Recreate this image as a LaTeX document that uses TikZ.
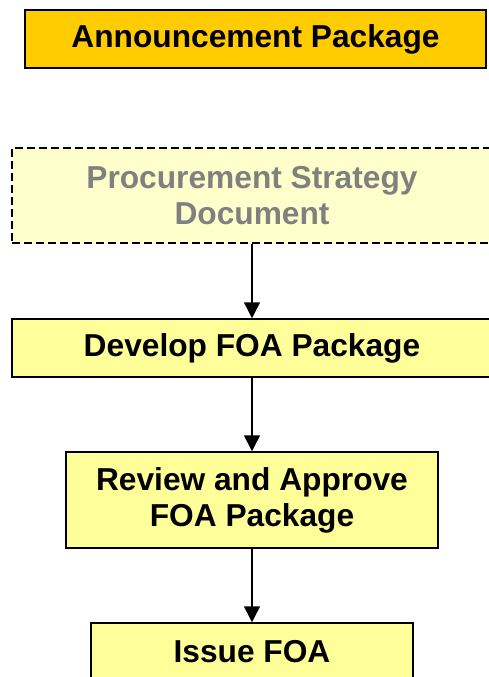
\documentclass[tikz,border=0pt]{standalone}
\usepackage{fontspec}
\setmainfont{Liberation Sans}
\usetikzlibrary{arrows.meta}
\definecolor{annfill}{HTML}{FFCC00}
\definecolor{stepfill}{HTML}{FFFF99}
\definecolor{docfill}{HTML}{FFFFCC}
\definecolor{doctext}{HTML}{808080}
\tikzset{
  stepbox/.style={draw=black, line width=1.5pt, fill=stepfill, rectangle,
    align=center, inner sep=0pt,
    font=\fontsize{31.7}{36}\selectfont\bfseries},
  annbox/.style={stepbox, fill=annfill, line width=2pt},
  docbox/.style={stepbox, fill=docfill, text=doctext, dashed,
    dash pattern=on 8pt off 4pt},
  flow/.style={line width=1.5pt, -{Triangle[width=16pt,length=16pt]}}
}
\begin{document}
\begin{tikzpicture}[x=1pt, y=-1pt]
  \useasboundingbox (0,0) rectangle (489,677);
  \clip (0,0) rectangle (489,677);

  \node[annbox, minimum width=461pt, minimum height=58pt] (ann) at (255.5, 39) {Announcement Package};

  \node[docbox, minimum width=480pt, minimum height=95pt] (strategy) at (252, 195.5) {Procurement Strategy\\Document};
  \node[stepbox, minimum width=480pt, minimum height=58pt] (develop) at (252, 348) {Develop FOA Package};
  \node[stepbox, minimum width=372pt, minimum height=96pt] (review) at (252, 500) {Review and Approve\\FOA Package};
  \node[stepbox, minimum width=322pt, minimum height=58pt] (issue) at (252, 652) {Issue FOA};

  \draw[flow] (strategy) -- (develop);
  \draw[flow] (develop) -- (review);
  \draw[flow] (review) -- (issue);
\end{tikzpicture}
\end{document}
